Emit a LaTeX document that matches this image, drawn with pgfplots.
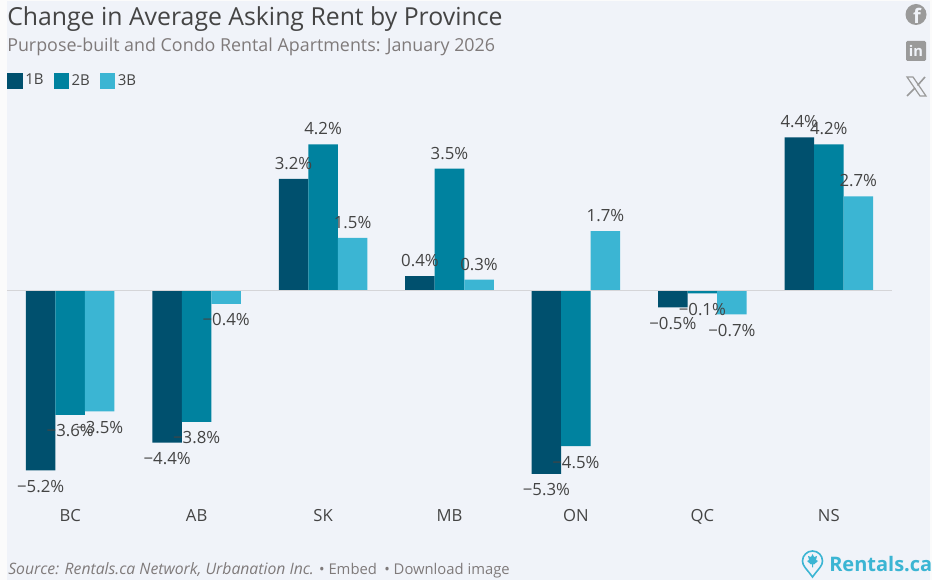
\documentclass[border=0pt]{standalone}
\usepackage{fontspec}
\setmainfont{Open Sans}
\usepackage{pgfplots}
\pgfplotsset{compat=1.18}
\definecolor{pagebg}{HTML}{F0F3F9}
\definecolor{outerbg}{HTML}{FBFBFB}
\definecolor{cA}{HTML}{00506E}
\definecolor{cB}{HTML}{00829F}
\definecolor{cC}{HTML}{3BB5D3}
\definecolor{txt}{HTML}{444444}
\definecolor{subtxt}{HTML}{7F7A7A}
\definecolor{icon}{HTML}{9A9A9A}
\definecolor{zeroline}{HTML}{D5D5D8}
\begin{document}
\begin{tikzpicture}[x=0.75pt,y=-0.75pt]
\useasboundingbox (0,0) rectangle (932,580);
\fill[outerbg] (0,0) rectangle (932,580);
\fill[pagebg] (7,1) rectangle (930,580);

\begin{axis}[
at={(5.25pt,-375pt)},anchor=south west,
scale only axis,
width=663.75pt,height=300pt,
xmin=-0.5,xmax=6.5,
ymin=-6.052,ymax=5.476,
ybar,
bar width=0.2335,
axis line style={draw=none},
ytick=\empty,
xtick={0,1,2,3,4,5,6},
xticklabels={BC,AB,SK,MB,ON,QC,NS},
major tick length=0pt,
xticklabel style={font=\fontsize{12.5}{14}\selectfont,text=txt,yshift=-3.5pt},
clip=false,
point meta=explicit symbolic,
visualization depends on={y \as \rawy},
nodes near coords,
every node near coord/.append style={font=\fontsize{12.6}{14}\selectfont,text=txt,inner sep=0pt,
anchor=center,yshift={ifthenelse(\rawy<0,-12pt,11.5pt)}},
legend style={draw=none,fill=none,at={(0,1.0)},anchor=south west,yshift=7.5pt,legend columns=3,
font=\fontsize{11.25}{13}\selectfont,text=txt,inner sep=0pt,
/tikz/every even column/.append style={column sep=5.5pt}},
legend image code/.code={\fill[#1] (0pt,-6pt) rectangle (11.5pt,6pt);},
]
\addplot[draw=none,fill=cA,bar shift=-0.2335] coordinates {
(0,-5.2)[−5.2\%] (1,-4.4)[−4.4\%] (2,3.2)[3.2\%] (3,0.4)[0.4\%] (4,-5.3)[−5.3\%] (5,-0.5)[−0.5\%] (6,4.4)[4.4\%]};
\addplot[draw=none,fill=cB,bar shift=0] coordinates {
(0,-3.6)[−3.6\%] (1,-3.8)[−3.8\%] (2,4.2)[4.2\%] (3,3.5)[3.5\%] (4,-4.5)[−4.5\%] (5,-0.1)[−0.1\%] (6,4.2)[4.2\%]};
\addplot[draw=none,fill=cC,bar shift=0.2335] coordinates {
(0,-3.5)[−3.5\%] (1,-0.4)[−0.4\%] (2,1.5)[1.5\%] (3,0.3)[0.3\%] (4,1.7)[1.7\%] (5,-0.7)[−0.7\%] (6,2.7)[2.7\%]};
\legend{1B,2B,3B}
\draw[zeroline,line width=0.75pt] (axis cs:-0.5,0) -- (axis cs:6.5,0);
\end{axis}

% header
\node[anchor=base west,inner sep=0pt,text=txt,font=\fontsize{18.6}{20}\selectfont] at (7,25.5) {Change in Average Asking Rent by Province};
\node[anchor=base west,inner sep=0pt,text=subtxt,font=\fontsize{13.4}{15}\selectfont] at (7,52) {Purpose-built and Condo Rental Apartments: January 2026};

% footer
\node[anchor=base west,inner sep=0pt,text=subtxt,font=\fontsize{11.1}{13}\selectfont] at (8,575) {{\fontsize{11.8}{13}\selectfont\textit{Source: Rentals.ca Network, Urbanation Inc.}} • Embed\hspace{5.5pt}• Download image};

% logo
\draw[cC,line width=1.2pt] (812.5,577) .. controls (806,568) and (802.5,566) .. (802.5,561) arc[start angle=180,end angle=360,radius=10] .. controls (822.5,566) and (819,568) .. (812.5,577) -- cycle;
\fill[cC] (812.5,554) -- (814,557) -- (817,556) -- (816,560) -- (818,561) -- (814,564.5) -- (813,564) -- (813,567.5) -- (812,567.5) -- (812,564) -- (811,564.5) -- (807,561) -- (809,560) -- (808,556) -- (811,557) -- cycle;
\node[anchor=base west,inner sep=0pt,text=cC,font=\fontsize{15}{17}\selectfont\bfseries] at (829,572) {Rentals.ca};

% social icons
\fill[icon] (916,14.5) circle[radius=10.5];
\node[text=pagebg,font=\fontsize{15}{15}\selectfont\bfseries,inner sep=0pt,anchor=base] at (917,24) {f};
\fill[icon,rounded corners=1pt] (906,41) rectangle (926,61);
\node[text=pagebg,font=\fontsize{11}{11}\selectfont\bfseries,inner sep=0pt,anchor=base] at (916,57) {in};
\draw[icon,line width=0.9pt] (907,77) -- (913,77) -- (926,96) -- (920,96) -- cycle;
\draw[icon,line width=1.2pt] (925,77) -- (917.5,85.5) (915,88) -- (907,96);
\end{tikzpicture}
\end{document}
